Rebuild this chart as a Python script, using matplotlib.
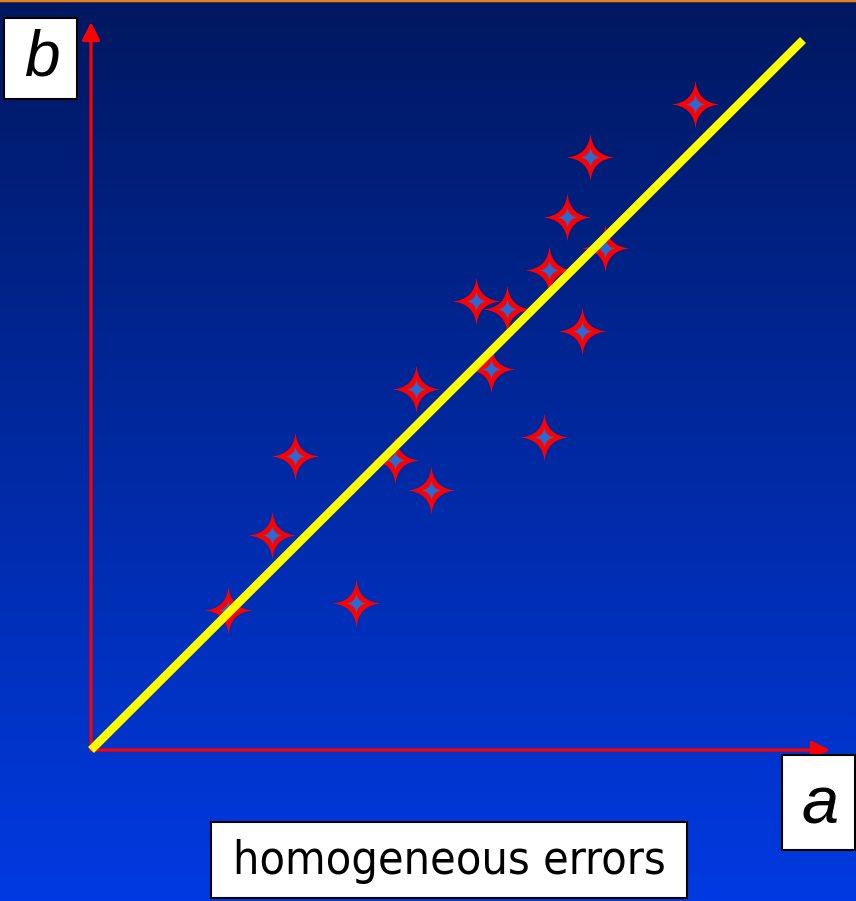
import numpy as np
import matplotlib
matplotlib.use("Agg")
import matplotlib.pyplot as plt
from matplotlib.path import Path
from matplotlib.patches import Rectangle

# measured points (a, b)
a_vals = [6.04, 4.99, 4.76, 5.14, 4.58, 3.85, 4.16, 4.91, 4.00, 3.25,
          4.53, 2.04, 3.04, 3.40, 1.81, 1.37, 2.65]
b_vals = [6.46, 5.93, 5.33, 5.02, 4.80, 4.49, 4.41, 4.19, 3.81, 3.61,
          3.13, 2.94, 2.90, 2.60, 2.15, 1.40, 1.47]
fit_a = [0.0, 7.12]
fit_b = [0.0, 7.10]
axis_len_a = 7.39
axis_len_b = 7.28


def star_path(inner=0.25, bulge=0.55):
    # 4-point star with concave sides
    verts = []
    for k in range(4):
        ang = np.pi / 2 + k * np.pi / 2
        tip = (np.cos(ang), np.sin(ang))
        mid_ang = ang + np.pi / 4
        nxt = ang + np.pi / 2
        ctrl = (inner * np.cos(mid_ang), inner * np.sin(mid_ang))
        for s in np.linspace(0, 1, 8)[:-1]:
            px = (1 - s) ** 2 * tip[0] + 2 * s * (1 - s) * ctrl[0] * bulge + s ** 2 * np.cos(nxt)
            py = (1 - s) ** 2 * tip[1] + 2 * s * (1 - s) * ctrl[1] * bulge + s ** 2 * np.sin(nxt)
            verts.append((px, py))
    verts.append(verts[0])
    codes = [Path.MOVETO] + [Path.LINETO] * (len(verts) - 2) + [Path.CLOSEPOLY]
    return Path(verts, codes)


W, H = 856, 901
fig = plt.figure(figsize=(W / 100, H / 100), dpi=100)

# gradient background
bg = fig.add_axes([0, 0, 1, 1])
top = np.array([0, 24, 96]) / 255
bot = np.array([0, 58, 226]) / 255
t = np.linspace(0, 1, 300)[:, None]
grad = (top[None, :] * (1 - t) + bot[None, :] * t)[:, None, :]
bg.imshow(grad, aspect="auto", extent=[0, 1, 0, 1], origin="upper")
bg.axhline(1.0, color="#e8801a", lw=2.5)
bg.set_xlim(0, 1)
bg.set_ylim(0, 1)
bg.axis("off")

ax = fig.add_axes([0, 0, 1, 1])
ax.patch.set_alpha(0)
ax.set_xlim(-0.91, 7.65)
ax.set_ylim(-1.51, 7.50)
ax.axis("off")

# axes arrows
arrow = dict(arrowstyle="-|>", color="red", lw=2.3, mutation_scale=27,
             shrinkA=0, shrinkB=0)
ax.annotate("", xy=(0, axis_len_b), xytext=(0, 0), arrowprops=arrow)
ax.annotate("", xy=(axis_len_a, 0), xytext=(0, 0), arrowprops=arrow)

# stars
ax.scatter(a_vals, b_vals, marker=star_path(0.4, 0.32), s=34 ** 2,
           color="red", linewidths=0, zorder=3)
ax.scatter(a_vals, b_vals, marker=star_path(0.4, 0.5), s=14 ** 2,
           color="#2a6ad2", linewidths=0, zorder=4)

# fitted line
ax.plot(fit_a, fit_b, color="#ffff00", lw=6, solid_capstyle="butt", zorder=5)

# label boxes in pixel coords
ov = fig.add_axes([0, 0, 1, 1])
ov.patch.set_alpha(0)
ov.set_xlim(0, W)
ov.set_ylim(H, 0)
ov.axis("off")
for x0, y0, x1, y1 in [(4, 18, 77, 99), (782, 755, 855, 850), (211, 822, 687, 898)]:
    ov.add_patch(Rectangle((x0, y0), x1 - x0, y1 - y0, facecolor="white",
                           edgecolor="black", lw=1.5, zorder=6))
ov.text(42, 58, "b", fontsize=46, style="italic", family="Liberation Sans",
        ha="center", va="center", zorder=7)
ov.text(820, 806, "a", fontsize=48, style="italic", family="Liberation Sans",
        ha="center", va="center", zorder=7)
ov.text(449, 862, "homogeneous errors", fontsize=33.5, family="DejaVu Sans",
        fontstretch="condensed", ha="center", va="center", zorder=7)

fig.savefig("out.png", dpi=100)
